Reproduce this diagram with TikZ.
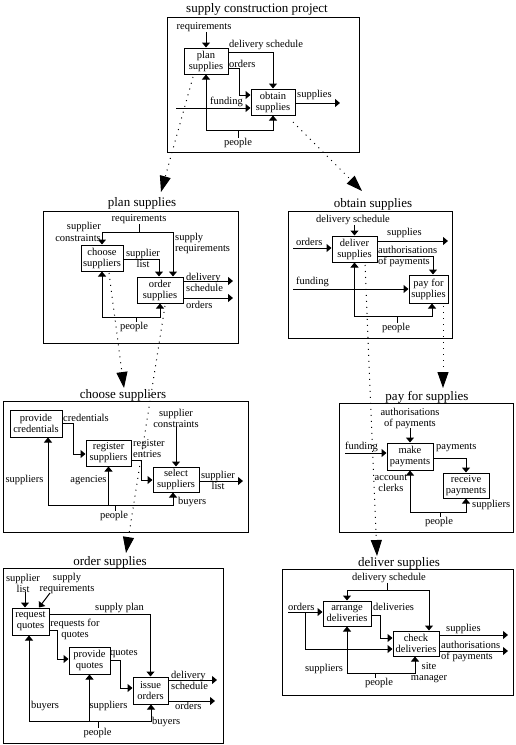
\documentclass[tikz,border=0pt]{standalone}
\usepackage{fontspec}
\setmainfont{Liberation Serif}
\usetikzlibrary{arrows.meta}
\newcommand\lblfont{\fontsize{10.5}{11}\selectfont}
\newcommand\ttlfont{\fontsize{13}{14}\selectfont}
\tikzset{
 lbl/.style={inner sep=0pt, font=\lblfont, align=center},
 ttl/.style={inner sep=0pt, font=\ttlfont},
 box/.style={draw, line width=1pt, inner sep=0pt, font=\lblfont, align=center, fill=white},
 frame/.style={draw, line width=1pt, inner sep=0pt},
 ln/.style={line width=1pt},
 arr/.style={ln, -{Triangle[length=5pt,width=8pt]}},
 arrr/.style={ln, {Triangle[length=5pt,width=8pt]}-{Triangle[length=5pt,width=8pt]}},
 dots/.style={line width=1pt, dash pattern=on 1pt off 5pt, -{Triangle[length=16pt,width=11pt]}},
}
\begin{document}
\begin{tikzpicture}[x=1pt,y=-1pt]
\fill[white] (0,0) rectangle (515,745);
\useasboundingbox (0,0) rectangle (515,745);
% ---------- panel 1
\node[ttl] (t1) at (257,9) {supply construction project};
\node[frame, minimum width=192pt, minimum height=135pt] (f1) at (263,84.5) {};
\node[box, minimum width=44pt, minimum height=26pt] (plan) at (206,61) {plan\\supplies};
\node[box, minimum width=44pt, minimum height=26pt] (obtain) at (273,102) {obtain\\supplies};
\node[lbl] (req1) at (204,27) {requirements};
\draw[arr] (plan.north |- req1.south) -- (plan.north);
\node[lbl, anchor=west] (ds1) at (229,45) {delivery schedule};
\draw[arr] (plan.east |- 0,52) -| (obtain.north);
\node[lbl, anchor=west] (or1) at (229,64) {orders};
\draw[arr] (plan.east |- 0,68) -- (239,68) |- (obtain.west |- 0,95);
\node[lbl, anchor=west] (fu1) at (210,102) {funding};
\coordinate (fin1) at (176,108);
\draw[arr] (fin1) -- (obtain.west |- fin1);
\coordinate (sout1) at (340,103);
\draw[arr] (obtain.east |- sout1) -- (sout1);
\node[lbl, anchor=west] (su1) at (297,95) {supplies};
\draw[arrr] (plan.south) |- (obtain.south |- 0,130) -- (obtain.south);
\node[lbl] (pe1) at (238,143) {people};
\draw[ln] (pe1.north |- 0,130) -- (pe1.north);
% ---------- panel 2 plan supplies
\node[ttl] (t2) at (142,203) {plan supplies};
\node[frame, minimum width=195pt, minimum height=132pt] (f2) at (140.5,277) {};
\node[box, minimum width=42pt, minimum height=26pt] (choose) at (102,258) {choose\\suppliers};
\node[box, minimum width=46pt, minimum height=26pt] (order) at (160,290) {order\\supplies};
\node[lbl] (req2) at (139,219) {requirements};
\draw[ln] (req2.south) -- (req2.south |- 0,232);
\draw[arrr] (choose.north) |- (173,232) -- (order.north -| 173,0);
\node[lbl, anchor=east, align=right] (sc2) at (101,232) {supplier\\[1pt]constraints};
\node[lbl, anchor=west, align=left] (sr2) at (175,243) {supply\\requirements};
\node[lbl] (sl2) at (143,258) {supplier\\list};
\draw[arr] (choose.east |- 0,259) -| (order.north -| 159,0);
\coordinate (ds2) at (233,281);
\draw[arr] (order.east |- ds2) -- (ds2);
\node[lbl, anchor=west, align=left] (dsl2) at (186,282) {delivery\\schedule};
\coordinate (or2) at (233,298);
\draw[arr] (order.east |- or2) -- (or2);
\node[lbl, anchor=west] (orl2) at (186,305) {orders};
\draw[arrr] (choose.south) |- (order.south |- 0,317) -- (order.south);
\node[lbl] (pe2) at (134,327) {people};
\draw[ln] (136,317) -- (136,0 |- pe2.north);
% ---------- panel 3 obtain supplies
\node[ttl] (t3) at (373,204) {obtain supplies};
\node[frame, minimum width=164pt, minimum height=127pt] (f3) at (370,274.5) {};
\node[box, minimum width=45pt, minimum height=26pt] (deliver) at (354.5,249) {deliver\\supplies};
\node[box, minimum width=39pt, minimum height=28pt] (pay) at (428.5,289) {pay for\\supplies};
\node[lbl] (ds3) at (353,220) {delivery schedule};
\draw[arr] (deliver.north |- ds3.south) -- (deliver.north);
\node[lbl, anchor=west] (or3) at (296,242) {orders};
\coordinate (oin3) at (293,248);
\draw[arr] (oin3) -- (deliver.west |- oin3);
\coordinate (sout3) at (448,241);
\draw[arr] (deliver.east |- sout3) -- (sout3);
\node[lbl, anchor=west] (su3) at (387,233) {supplies};
\draw[arr] (deliver.east |- 0,256) -| (pay.north -| 433,0);
\node[lbl, anchor=west, align=left] (au3) at (378,256) {authorisations\\of payments};
\node[lbl, anchor=west] (fu3) at (296,282) {funding};
\coordinate (fin3) at (293,289);
\draw[arr] (fin3) -- (pay.west |- fin3);
\draw[arrr] (deliver.south) |- (432,316) -- (pay.south -| 432,0);
\node[lbl] (pe3) at (396,328) {people};
\draw[ln] (397,316) -- (397,0 |- pe3.north);
% ---------- panel 4 choose suppliers
\node[ttl] (t4) at (123,395) {choose suppliers};
\node[frame, minimum width=245pt, minimum height=131pt] (f4) at (125.5,466.5) {};
\node[box, minimum width=52pt, minimum height=27pt] (provide) at (36,423.5) {provide\\credentials};
\node[box, minimum width=45pt, minimum height=26pt] (register) at (108.5,453) {register\\suppliers};
\node[box, minimum width=46pt, minimum height=25pt] (select) at (176,479.5) {select\\suppliers};
\node[lbl, anchor=west] (cr4) at (63,418) {credentials};
\draw[arr] (provide.east |- 0,423) -- (73,423) |- (register.west |- 0,454);
\node[lbl, anchor=west, align=left] (re4) at (133,449) {register\\entries};
\draw[arr] (register.east |- 0,460) -- (141,460) |- (select.west |- 0,480);
\node[lbl] (sc4) at (176,418) {supplier\\constraints};
\draw[arr] (select.north |- sc4.south) -- (select.north);
\coordinate (sl4) at (243,481);
\draw[arr] (select.east |- sl4) -- (sl4);
\node[lbl] (sll4) at (218,480) {supplier\\list};
\draw[arrr] (provide.south -| 48,0) -- (48,505) -- (173,505) -- (select.south -| 173,0);
\draw[arr] (register.south |- 0,505) -- (register.south);
\node[lbl] (pe4) at (114,516) {people};
\draw[ln] (115,505) -- (115,0 |- pe4.north);
\node[lbl] (sp4) at (24.5,480) {suppliers};
\node[lbl] (ag4) at (88.5,480) {agencies};
\node[lbl, anchor=west] (bu4) at (178,502) {buyers};
% ---------- panel 5 pay for supplies
\node[ttl] (t5) at (427,397) {pay for supplies};
\node[frame, minimum width=174pt, minimum height=129pt] (f5) at (426,467.5) {};
\node[box, minimum width=46pt, minimum height=27pt] (make) at (410,456.5) {make\\payments};
\node[box, minimum width=46pt, minimum height=25pt] (receive) at (466,485.5) {receive\\payments};
\node[lbl] (au5) at (410,418) {authorisations\\of payments};
\draw[arr] (make.north |- au5.south) -- (make.north);
\node[lbl, anchor=west] (fu5) at (345,447) {funding};
\coordinate (fin5) at (345,453);
\draw[arr] (fin5) -- (make.west |- fin5);
\node[lbl, anchor=west] (pa5) at (436,448) {payments};
\draw[arr] (make.east |- 0,458) -| (receive.north);
\draw[arrr] (make.south) |- (receive.south |- 0,512) -- (receive.south);
\node[lbl] (pe5) at (439,522) {people};
\draw[ln] (440,512) -- (440,0 |- pe5.north);
\node[lbl] (ac5) at (391,483) {account\\clerks};
\node[lbl, anchor=west] (sp5) at (472,505) {suppliers};
% ---------- panel 6 order supplies
\node[ttl] (t6) at (110,562) {order supplies};
\node[frame, minimum width=220pt, minimum height=175pt] (f6) at (113,655.5) {};
\node[box, minimum width=37pt, minimum height=27pt] (request) at (30.5,621.5) {request\\quotes};
\node[box, minimum width=41pt, minimum height=27pt] (pq) at (89.5,660.5) {provide\\quotes};
\node[box, minimum width=35pt, minimum height=27pt] (issue) at (150.5,690.5) {issue\\orders};
\node[lbl] (sl6) at (23,583) {supplier\\list};
\draw[arr] (25,0 |- sl6.south) -- (request.north -| 25,0);
\node[lbl] (sr6) at (67,583) {supply\\requirements};
\coordinate (srs6) at (50,593);
\draw[arr] (srs6) -- (request.north -| 39,0);
\node[lbl, anchor=west] (sp6) at (95,608) {supply plan};
\draw[arr] (request.east |- 0,614) -| (issue.north);
\node[lbl] (rq6) at (75,629.5) {requests for\\quotes};
\draw[arr] (request.east |- 0,630) -- (57,630) |- (pq.west |- 0,659);
\node[lbl, anchor=west] (qu6) at (110,654) {quotes};
\draw[arr] (pq.east |- 0,660) -- (120,660) |- (issue.west |- 0,688);
\coordinate (ds6) at (217,680);
\draw[arr] (issue.east |- ds6) -- (ds6);
\node[lbl, anchor=west, align=left] (dsl6) at (171,680) {delivery\\schedule};
\coordinate (or6) at (215,701);
\draw[arr] (issue.east |- or6) -- (or6);
\node[lbl, anchor=west] (orl6) at (175,706) {orders};
\draw[arrr] (request.south -| 29,0) -- (29,721) -- (151,721) -- (issue.south -| 151,0);
\draw[arr] (pq.south |- 0,721) -- (pq.south);
\node[lbl] (pe6) at (97.5,733) {people};
\draw[ln] (98,721) -- (98,0 |- pe6.north);
\node[lbl] (bu6) at (45,706) {buyers};
\node[lbl] (su6) at (108.5,706) {suppliers};
\node[lbl, anchor=west] (bu6b) at (152,722) {buyers};
% ---------- panel 7 deliver supplies
\node[ttl] (t7) at (399,563) {deliver supplies};
\node[frame, minimum width=231pt, minimum height=126pt] (f7) at (397.5,632) {};
\node[box, minimum width=48pt, minimum height=25pt] (arrange) at (347,613.5) {arrange\\deliveries};
\node[box, minimum width=46pt, minimum height=25pt] (check) at (416,643.5) {check\\deliveries};
\node[lbl] (ds7) at (389,578) {delivery schedule};
\draw[ln] (387,0 |- ds7.south) -- (387,590);
\draw[arrr] (arrange.north) |- (429,590) -- (check.north -| 429,0);
\node[lbl, anchor=west] (or7) at (288,607) {orders};
\coordinate (oin7) at (288,612);
\draw[arr] (oin7) -- (arrange.west |- oin7);
\draw[arr] (305,612) |- (check.west |- 0,649);
\node[lbl, anchor=west] (de7) at (373,607) {deliveries};
\draw[arr] (arrange.east |- 0,615) -- (380,615) |- (check.west |- 0,638);
\coordinate (su7) at (508,635);
\draw[arr] (check.east |- su7) -- (su7);
\node[lbl, anchor=west] (sul7) at (446,629) {supplies};
\coordinate (au7) at (508,651);
\draw[arr] (check.east |- au7) -- (au7);
\node[lbl, anchor=west, align=left] (aul7) at (441,651.5) {authorisations\\of payments};
\draw[arrr] (arrange.south) |- (415,673) -- (check.south -| 415,0);
\node[lbl] (pe7) at (379,683) {people};
\draw[ln] (375,673) -- (375,0 |- pe7.north);
\node[lbl] (sp7) at (324,669) {suppliers};
\node[lbl] (sm7) at (429,673) {site\\manager};
% ---------- dotted decomposition links
\coordinate (d1a) at (193,77);  \coordinate (d1b) at (161,192);
\coordinate (d2a) at (293,122); \coordinate (d2b) at (362,191);
\coordinate (d3a) at (109,273); \coordinate (d3b) at (124,388);
\coordinate (d4a) at (165,306); \coordinate (d4b) at (126,553);
\coordinate (d5a) at (365,265); \coordinate (d5b) at (377,556);
\coordinate (d6a) at (443,306); \coordinate (d6b) at (443,388);
\draw[dots] (d1a) -- (d1b);
\draw[dots] (d2a) -- (d2b);
\draw[dots] (d3a) -- (d3b);
\draw[dots] (d4a) -- (d4b);
\draw[dots] (d5a) -- (d5b);
\draw[dots] (d6a) -- (d6b);
\end{tikzpicture}
\end{document}
